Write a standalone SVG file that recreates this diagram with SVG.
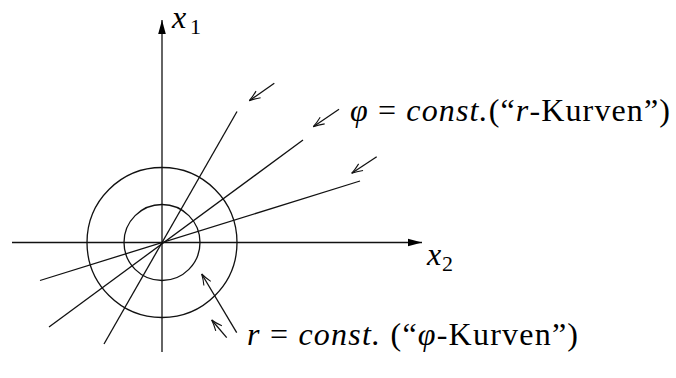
<svg xmlns="http://www.w3.org/2000/svg" width="676" height="378" viewBox="0 0 676 378">
<style>
.ln{stroke:#111;stroke-width:1.3;fill:none}
text{font-family:'Liberation Serif',serif;font-size:32px;fill:#000}
.i{font-style:italic}
.s{font-size:22px}
</style>
<defs>
<marker id="open" markerUnits="userSpaceOnUse" markerWidth="14" markerHeight="10" viewBox="-12 -5 14 10" refX="0" refY="0" orient="auto">
<path d="M-11,-4 Q-5,-1.2 0,0 Q-5,1.2 -11,4" stroke="#111" stroke-width="1.1" fill="none"/>
</marker>
<marker id="solid" markerUnits="userSpaceOnUse" markerWidth="16" markerHeight="10" viewBox="-15 -5 16 10" refX="0" refY="0" orient="auto">
<path d="M0,0 L-14,-3.8 L-14,3.8 Z" fill="#000"/>
</marker>
</defs>
<g id="connectors">
<line id="axis-x1" class="ln" x1="162" y1="352" x2="162" y2="20" marker-end="url(#solid)"/>
<line id="axis-x2" class="ln" x1="12" y1="242.5" x2="422" y2="242.5" marker-end="url(#solid)"/>
<circle id="circle-outer" class="ln" cx="162" cy="242.5" r="75"/>
<circle id="circle-inner" class="ln" cx="162" cy="242.5" r="38"/>
<line id="ray1" class="ln" x1="104" y1="344" x2="237" y2="111.5"/>
<line id="ray2" class="ln" x1="49" y1="327" x2="303" y2="140"/>
<line id="ray3" class="ln" x1="40" y1="280.5" x2="360" y2="181"/>
<line class="ln" x1="274.3" y1="83.3" x2="249.3" y2="100.7" marker-end="url(#open)"/>
<line class="ln" x1="339" y1="109.3" x2="313.3" y2="126.7" marker-end="url(#open)"/>
<line class="ln" x1="376.7" y1="156.7" x2="351.7" y2="173.3" marker-end="url(#open)"/>
<line class="ln" x1="236.7" y1="332.7" x2="201.7" y2="274" marker-end="url(#open)"/>
<line class="ln" x1="226.7" y1="337.7" x2="211.7" y2="320" marker-end="url(#open)"/>
</g>
<g id="label-x1"><text x="172" y="28" font-family="Liberation Serif, serif"><tspan class="i">x</tspan><tspan class="s" x="190" y="34">1</tspan></text></g>
<g id="label-x2"><text x="427" y="265" font-family="Liberation Serif, serif"><tspan class="i">x</tspan><tspan class="s" x="442" y="271">2</tspan></text></g>
<g id="label-phi"><text x="350" y="121" textLength="320" lengthAdjust="spacing" font-family="Liberation Serif, serif"><tspan class="i">φ</tspan> = <tspan class="i">const.</tspan>(“<tspan class="i">r</tspan>-Kurven”)</text></g>
<g id="label-r"><text x="247" y="345" textLength="331" lengthAdjust="spacing" font-family="Liberation Serif, serif"><tspan class="i">r</tspan> = <tspan class="i">const.</tspan> (“<tspan class="i">φ</tspan>-Kurven”)</text></g>
</svg>
